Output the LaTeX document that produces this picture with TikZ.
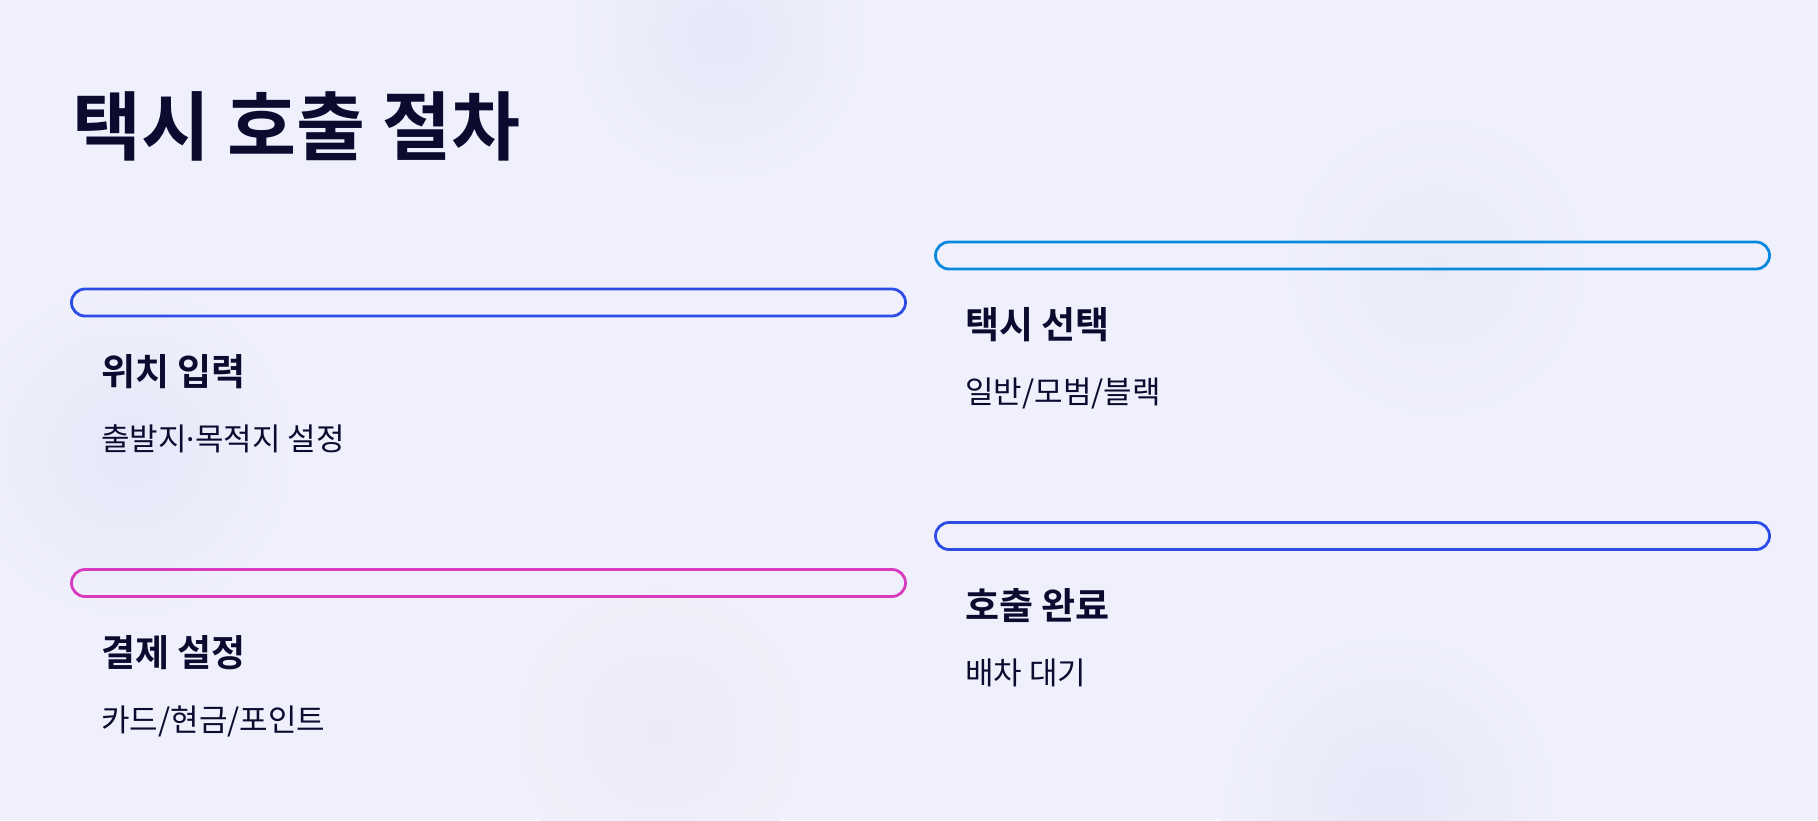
\documentclass[tikz,border=0pt]{standalone}
\usepackage{fontspec}
\newfontfamily\krfont{Noto Sans CJK KR}[BoldFont={Noto Sans CJK KR Bold}]
\newfontfamily\latinfont{Noto Sans}
\definecolor{bgcol}{RGB}{239,240,251}
\definecolor{blobblue}{RGB}{229,232,248}
\definecolor{blobpink}{RGB}{238,233,247}
\definecolor{inkcol}{RGB}{11,11,48}
\definecolor{barblue}{RGB}{44,76,230}
\definecolor{barsky}{RGB}{10,136,222}
\definecolor{barpink}{RGB}{216,59,192}

\begin{document}
\begin{tikzpicture}[x=1pt, y=-1pt,
    bar/.style={draw, line width=2.8pt, rounded corners=13.5pt,
      minimum width=834pt, minimum height=27pt, inner sep=0pt},
    head/.style={font=\krfont\bfseries\fontsize{37}{44}\selectfont,
      text=inkcol, inner sep=0pt, anchor=base west},
    sub/.style={font=\krfont\fontsize{31}{37}\selectfont,
      text=inkcol, inner sep=0pt, anchor=base west}
    ]
    % background and soft blobs
    \fill[bgcol] (0,0) rectangle (1818,820);
    \useasboundingbox (0,0) rectangle (1818,820);
    \begin{scope}
      \clip (0,0) rectangle (1818,820);
      \shade[inner color=blobblue, outer color=bgcol] (720,35) circle (150);
      \shade[inner color=blobblue, outer color=bgcol] (128,452) circle (170);
      \shade[inner color=blobblue, outer color=bgcol] (1390,800) circle (170);
      \shade[inner color=blobpink, outer color=bgcol] (660,730) circle (150);
      \shade[inner color=blobblue!60!bgcol, outer color=bgcol] (1437,267) circle (160);
    \end{scope}

    \node[font=\krfont\bfseries\fontsize{75}{90}\selectfont, text=inkcol,
      inner sep=0pt, anchor=base west] (title) at (72,154) {택시 호출 절차};

    % steps
    \node[bar, draw=barblue] (b1) at (488.5,302.5) {};
    \node[head] (h1) at ([shift={(31,83)}]b1.west) {위치 입력};
    \node[sub] (s1) at ([shift={(0,65)}]h1.base west) {출발지{\latinfont ·}목적지 설정};

    \node[bar, draw=barsky] (b2) at (1352.5,255.5) {};
    \node[head] (h2) at ([shift={(31,83)}]b2.west) {택시 선택};
    \node[sub] (s2) at ([shift={(0,65)}]h2.base west) {일반/모범/블랙};

    \node[bar, draw=barpink] (b3) at (488.5,583) {};
    \node[head] (h3) at ([shift={(31,83)}]b3.west) {결제 설정};
    \node[sub] (s3) at ([shift={(0,65)}]h3.base west) {카드/현금/포인트};

    \node[bar, draw=barblue] (b4) at (1352.5,536) {};
    \node[head] (h4) at ([shift={(31,83)}]b4.west) {호출 완료};
    \node[sub] (s4) at ([shift={(0,65)}]h4.base west) {배차 대기};
\end{tikzpicture}
\end{document}
